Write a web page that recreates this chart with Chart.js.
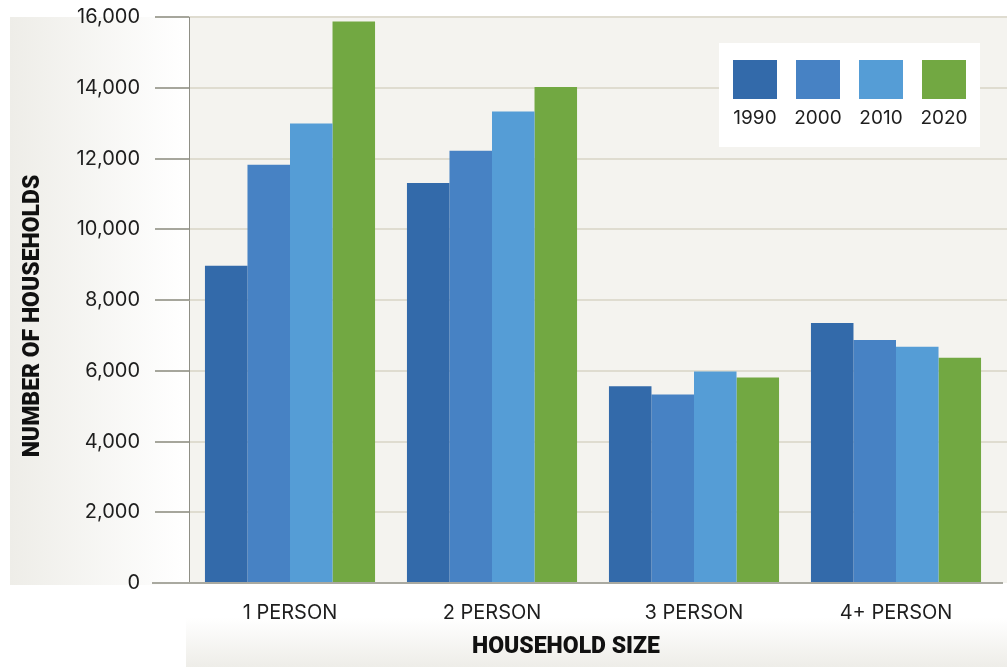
<!DOCTYPE html>
<html><head><meta charset="utf-8">
<script src="https://cdn.jsdelivr.net/npm/chart.js@4/dist/chart.umd.min.js"></script>
<style>html,body{margin:0;padding:0;background:#fff;overflow:hidden}#wrap{width:1007px;height:667px;position:relative}</style>
</head><body><div id="wrap"><canvas id="c" width="1007" height="667"></canvas></div>
<script>
const categories = ['1 PERSON', '2 PERSON', '3 PERSON', '4+ PERSON'];
const years = ['1990', '2000', '2010', '2020'];
const values1990 = [8970, 11310, 5560, 7350];
const values2000 = [11820, 12220, 5330, 6870];
const values2010 = [12990, 13330, 5980, 6680];
const values2020 = [15870, 14020, 5810, 6370];
const yTickValues = [0, 2000, 4000, 6000, 8000, 10000, 12000, 14000, 16000];
const xTitle = 'HOUSEHOLD SIZE';
const yTitle = 'NUMBER OF HOUSEHOLDS';
const colors = ['#336aaa', '#4782c4', '#559dd6', '#72a842'];
const seriesValues = [values1990, values2000, values2010, values2020];

const TICK_FONT = '"Inter", "Open Sans", sans-serif';
const TITLE_FONT = '"Roboto", "Liberation Sans", sans-serif';

const decor = {
  id: 'decor',
  beforeDraw(chart) {
    const ctx = chart.ctx, a = chart.chartArea, W = chart.width, H = chart.height;
    ctx.save();
    let g = ctx.createLinearGradient(10, 0, 186, 0);
    g.addColorStop(0, '#eeede8'); g.addColorStop(1, '#ffffff');
    ctx.fillStyle = g; ctx.fillRect(10, 17, 176, 568);
    g = ctx.createLinearGradient(0, 618, 0, H);
    g.addColorStop(0, '#ffffff'); g.addColorStop(1, '#eeede8');
    ctx.fillStyle = g; ctx.fillRect(186, 618, W - 186, H - 618);
    ctx.fillStyle = '#f4f3ef';
    ctx.fillRect(a.left, a.top, W - a.left, a.bottom - a.top);
    const ys = chart.scales.y;
    ctx.strokeStyle = '#dfdcd0'; ctx.lineWidth = 2;
    yTickValues.forEach(v => {
      if (v === 0) return;
      const y = Math.round(ys.getPixelForValue(v));
      ctx.beginPath(); ctx.moveTo(a.left, y); ctx.lineTo(W, y); ctx.stroke();
    });
    ctx.restore();
  },
  afterDatasetsDraw(chart) {
    const ctx = chart.ctx;
    ctx.save();
    ctx.strokeStyle = '#a9a9a0'; ctx.lineWidth = 2;
    const y = Math.round(chart.scales.y.getPixelForValue(0));
    ctx.beginPath(); ctx.moveTo(152, y); ctx.lineTo(1003, y); ctx.stroke();
    ctx.restore();
  },
  afterDraw(chart) {
    const ctx = chart.ctx;
    ctx.save();
    ctx.fillStyle = '#ffffff';
    ctx.fillRect(719, 43, 261, 104);
    chart.data.datasets.forEach((ds, i) => {
      const x = 733 + i * 63;
      ctx.fillStyle = ds.backgroundColor;
      ctx.fillRect(x, 60, 44, 39);
      ctx.fillStyle = '#1e1e1e';
      ctx.font = '19px ' + TICK_FONT;
      ctx.textAlign = 'center'; ctx.textBaseline = 'middle';
      ctx.fillText(ds.label, x + 22, 118);
    });
    ctx.fillStyle = '#111111';
    ctx.font = '900 23px ' + TITLE_FONT;
    ctx.textAlign = 'center'; ctx.textBaseline = 'middle';
    ctx.fillText(xTitle, 566, 647);
    ctx.translate(33, 316);
    ctx.rotate(-Math.PI / 2);
    ctx.fillText(yTitle, 0, 0);
    ctx.restore();
  }
};

new Chart(document.getElementById('c'), {
  type: 'bar',
  data: {
    labels: categories,
    datasets: years.map((yr, i) => ({
      label: yr,
      data: seriesValues[i],
      backgroundColor: colors[i],
      borderWidth: 0,
      barPercentage: 1,
      categoryPercentage: 0.842
    }))
  },
  options: {
    responsive: false,
    animation: false,
    devicePixelRatio: 1,
    layout: { padding: { top: 17, right: 10, left: 0, bottom: 0 } },
    plugins: { legend: { display: false }, tooltip: { enabled: false } },
    scales: {
      x: {
        grid: { display: false },
        border: { display: false },
        ticks: { color: '#1e1e1e', font: { family: TICK_FONT, size: 20 }, padding: 10 },
        afterFit(s) { s.height = 84; s.paddingLeft = 0; s.paddingRight = 0; }
      },
      y: {
        min: 0, max: 16000,
        afterBuildTicks(s) { s.ticks = yTickValues.map(v => ({ value: v })); },
        grid: { drawOnChartArea: false, drawTicks: true, tickLength: 34, color: '#a6a69c', lineWidth: 2 },
        border: { display: true, color: '#8f8f86', width: 1 },
        ticks: { color: '#1e1e1e', font: { family: TICK_FONT, size: 20 }, padding: 15,
          callback: v => v.toLocaleString('en-US') },
        afterFit(s) { s.width = 189; s.paddingTop = 0; s.paddingBottom = 0; }
      }
    }
  },
  plugins: [decor]
});
</script>
</body></html>
